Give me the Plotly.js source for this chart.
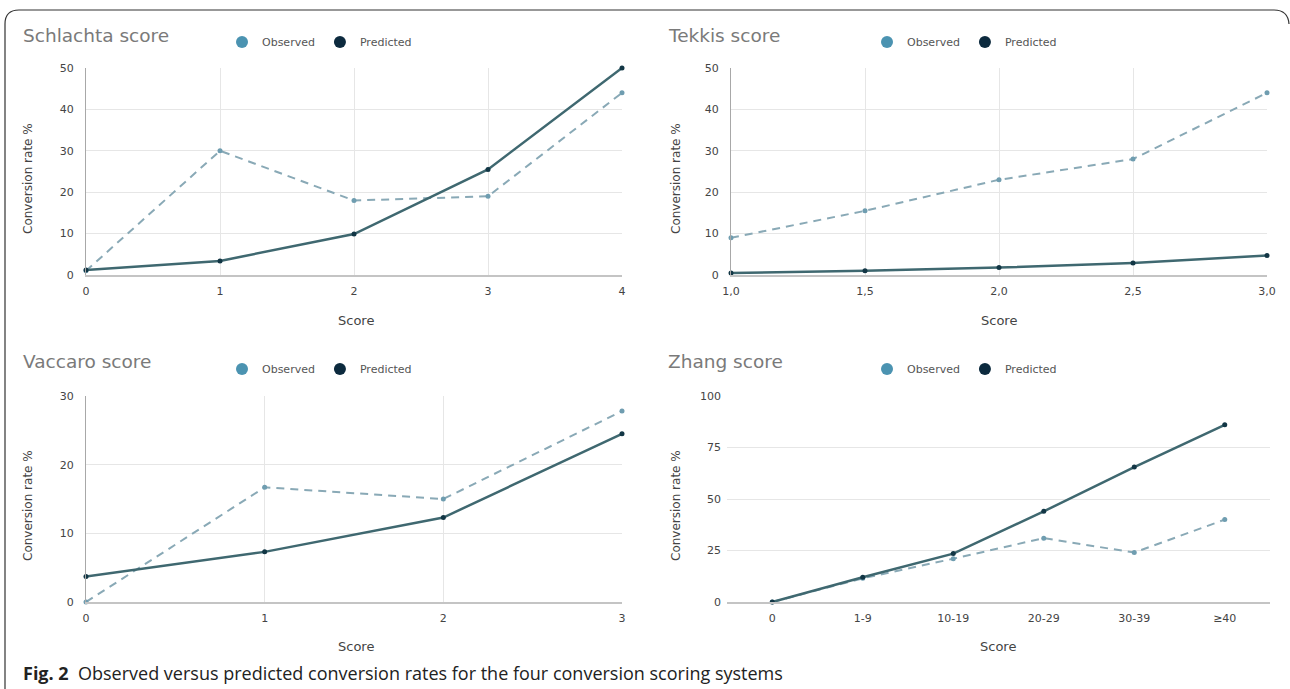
<!DOCTYPE html>
<html>
<head>
<meta charset="utf-8">
<script src="https://cdn.plot.ly/plotly-3.0.1.min.js"></script>
<style>
  html, body { margin: 0; padding: 0; background: #ffffff; }
  #chart { width: 1290px; height: 689px; }
</style>
</head>
<body>
<div id="chart"></div>
<script>
// ---- Data ----
const schlachtaScores = [0, 1, 2, 3, 4];
const schlachtaObserved = [1.0, 30, 18, 19, 44];
const schlachtaPredicted = [1.2, 3.4, 9.9, 25.5, 50];

const tekkisScores = [1.0, 1.5, 2.0, 2.5, 3.0];
const tekkisObserved = [9, 15.5, 23, 28, 44];
const tekkisPredicted = [0.5, 1.0, 1.8, 2.9, 4.7];

const vaccaroScores = [0, 1, 2, 3];
const vaccaroObserved = [0, 16.7, 15, 27.8];
const vaccaroPredicted = [3.7, 7.3, 12.3, 24.5];

const zhangScores = ['0', '1-9', '10-19', '20-29', '30-39', '≥40'];
const zhangObserved = [0, 11.5, 21, 31, 24, 40];
const zhangPredicted = [0, 12, 23.5, 44, 65.5, 86];

const panelTitles = ['Schlachta score', 'Tekkis score', 'Vaccaro score', 'Zhang score'];
const seriesNames = ['Observed', 'Predicted'];
const xTitle = 'Score';
const yTitle = 'Conversion rate %';
const captionBold = 'Fig. 2';
const captionText = 'Observed versus predicted conversion rates for the four conversion scoring systems';

// ---- Layout helpers ----
const W = 1290, H = 689;
const px = v => v / W;
const py = v => 1 - v / H;

const obsLine = '#89a9b6';
const obsMarker = '#6f9db0';
const predLine = '#3f6870';
const predMarker = '#123645';
const legObs = '#4b93b1';
const legPred = '#0c2a3e';

const FAM = 'DejaVu Sans, Liberation Sans, sans-serif';
const tickFont = {family: FAM, size: 11, color: '#444'};
const gridC = '#e6e6e6';

const panels = [
  {x: schlachtaScores, obs: schlachtaObserved, pred: schlachtaPredicted},
  {x: tekkisScores, obs: tekkisObserved, pred: tekkisPredicted},
  {x: vaccaroScores, obs: vaccaroObserved, pred: vaccaroPredicted},
  {x: zhangScores, obs: zhangObserved, pred: zhangPredicted}
];

const traces = [];
panels.forEach((p, i) => {
  const n = i === 0 ? '' : String(i + 1);
  const common = {xaxis: 'x' + n, yaxis: 'y' + n, type: 'scatter', mode: 'lines+markers',
                  showlegend: false, cliponaxis: false, hoverinfo: 'x+y'};
  traces.push(Object.assign({}, common, {
    x: p.x, y: p.obs, name: seriesNames[0],
    line: {color: obsLine, width: 2, dash: '8px,6px'},
    marker: {color: obsMarker, size: 5}
  }));
  traces.push(Object.assign({}, common, {
    x: p.x, y: p.pred, name: seriesNames[1],
    line: {color: predLine, width: 2.5},
    marker: {color: predMarker, size: 5}
  }));
  // legend entries (marker-only swatches)
  const leg = i === 0 ? 'legend' : 'legend' + (i + 1);
  [legObs, legPred].forEach((c, k) => {
    traces.push({
      xaxis: 'x' + n, yaxis: 'y' + n, type: 'scatter', mode: 'markers',
      x: [null], y: [null], name: seriesNames[k], legend: leg, showlegend: true,
      marker: {color: c, size: 12}, hoverinfo: 'skip'
    });
  });
});

// panel pixel boxes [left, right, top, bottom]
const boxes = [
  [86, 622, 68, 275],
  [731, 1267, 68, 275],
  [86, 622, 396, 602],
  [727, 1270, 396, 602]
];

const layout = {
  width: W, height: H,
  margin: {l: 0, r: 0, t: 0, b: 0},
  paper_bgcolor: '#ffffff', plot_bgcolor: '#ffffff',
  separators: ',.',
  font: {family: FAM, color: '#444'},
  showlegend: true,
  annotations: [],
  shapes: []
};

const yRanges = [[0, 50], [0, 50], [0, 30], [0, 100]];
const yDticks = [10, 10, 10, 25];
const xRanges = [[0, 4], [1, 3], [0, 3], [-0.5, 5.5]];

boxes.forEach((b, i) => {
  const n = i === 0 ? '' : String(i + 1);
  const isCat = i === 3;
  layout['xaxis' + n] = {
    domain: [px(b[0]), px(b[1])],
    anchor: 'y' + n,
    range: xRanges[i],
    type: isCat ? 'category' : 'linear',
    dtick: i === 1 ? 0.5 : 1,
    tickformat: i === 1 ? '.1f' : undefined,
    showgrid: !isCat, gridcolor: gridC, gridwidth: 1,
    zeroline: false,
    showline: true, linecolor: '#c4c4c4', linewidth: 2,
    ticks: '', tickfont: tickFont, ticklabelstandoff: 5,
    fixedrange: true
  };
  layout['yaxis' + n] = {
    domain: [py(b[3]), py(b[2])],
    anchor: 'x' + n,
    range: yRanges[i],
    dtick: yDticks[i],
    showgrid: true, gridcolor: gridC, gridwidth: 1,
    zeroline: false,
    showline: !isCat, linecolor: '#a8a8a8', linewidth: 1,
    ticks: '', tickfont: tickFont, ticklabelstandoff: isCat ? 5 : 9,
    fixedrange: true
  };
});

// legends
const legendPos = [[222, 42], [867, 42], [222, 369], [867, 369]];
legendPos.forEach((lp, i) => {
  const key = i === 0 ? 'legend' : 'legend' + (i + 1);
  layout[key] = {
    orientation: 'h', x: px(lp[0]), y: py(lp[1]), xanchor: 'left', yanchor: 'middle',
    font: {family: FAM, size: 11, color: '#555'},
    bgcolor: 'rgba(0,0,0,0)', borderwidth: 0, itemclick: false, itemdoubleclick: false
  };
});

// panel titles
const titlePos = [[21, 35], [666, 35], [21, 362], [666, 362]];
titlePos.forEach((tp, i) => {
  layout.annotations.push({
    xref: 'paper', yref: 'paper', x: px(tp[0]), y: py(tp[1]), xanchor: 'left', yanchor: 'middle',
    text: panelTitles[i], showarrow: false,
    font: {family: FAM, size: 18.5, color: '#7a7a7a'}
  });
});

// axis titles
const xTitlePos = [[356, 320], [999, 320], [356, 646], [998, 646]];
const yTitlePos = [[28, 179], [676, 179], [28, 506], [676, 506]];
for (let i = 0; i < 4; i++) {
  layout.annotations.push({
    xref: 'paper', yref: 'paper', x: px(xTitlePos[i][0]), y: py(xTitlePos[i][1]),
    xanchor: 'center', yanchor: 'middle', text: xTitle, showarrow: false,
    font: {family: FAM, size: 13, color: '#444'}
  });
  layout.annotations.push({
    xref: 'paper', yref: 'paper', x: px(yTitlePos[i][0]), y: py(yTitlePos[i][1]),
    xanchor: 'center', yanchor: 'middle', text: yTitle, showarrow: false, textangle: -90,
    font: {family: FAM, size: 12, color: '#444'}
  });
}

// caption
layout.annotations.push({
  xref: 'paper', yref: 'paper', x: px(21), y: py(673), xanchor: 'left', yanchor: 'middle',
  text: '<b>' + captionBold + '</b>  ' + captionText, showarrow: false,
  font: {family: 'Open Sans, Noto Sans, sans-serif', size: 18, color: '#222'}
});

// figure frame (rounded, open at bottom)
const r = 14;
const path = 'M ' + px(5) + ',' + py(689) +
  ' L ' + px(5) + ',' + py(10 + r) +
  ' Q ' + px(5) + ',' + py(10) + ' ' + px(5 + r) + ',' + py(10) +
  ' L ' + px(1288 - r) + ',' + py(10) +
  ' Q ' + px(1288) + ',' + py(10) + ' ' + px(1289) + ',' + py(10 + r);
layout.shapes.push({type: 'path', xref: 'paper', yref: 'paper', path: path,
  line: {color: '#333', width: 1.2}});

Plotly.newPlot('chart', traces, layout, {displayModeBar: false, staticPlot: false});
</script>
</body>
</html>
